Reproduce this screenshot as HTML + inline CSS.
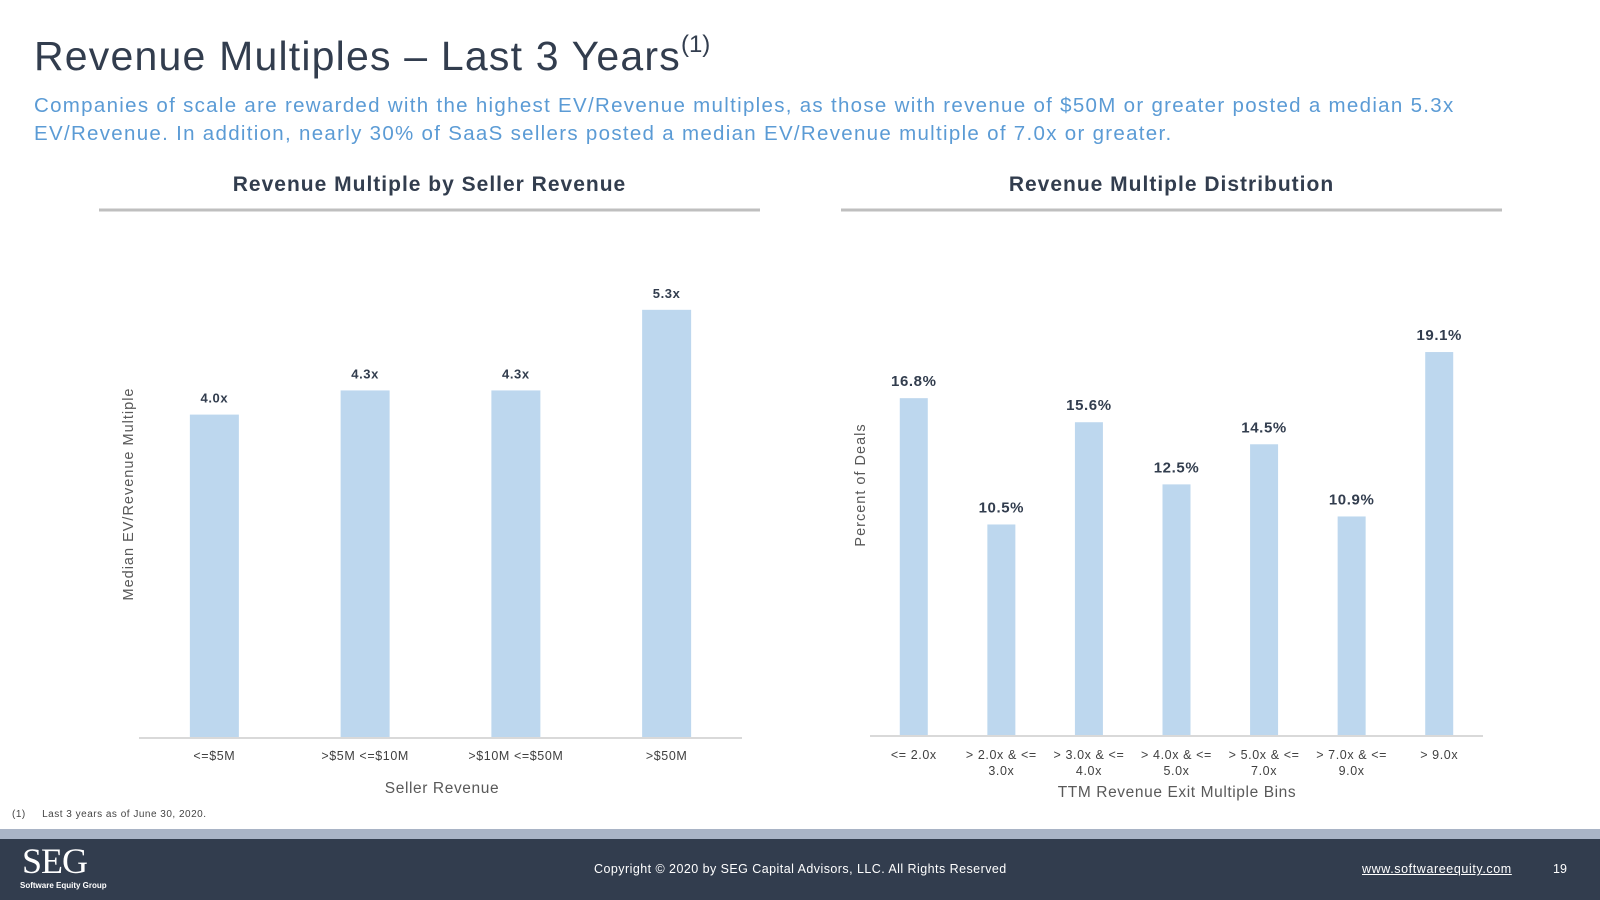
<!DOCTYPE html>
<html><head><meta charset="utf-8"><style>
body{margin:0;width:1600px;height:900px;position:relative;background:#fff;font-family:"Liberation Sans",sans-serif;overflow:hidden}
.abs{position:absolute}
</style></head><body>
<div class="abs" style="left:34px;top:31px;font-size:41px;letter-spacing:1.2px;color:#323d4e;white-space:nowrap">Revenue Multiples – Last 3 Years<sup style="font-size:24px;vertical-align:18px;letter-spacing:0">(1)</sup></div>
<div class="abs" style="left:34px;top:92px;width:1500px;font-size:20.5px;letter-spacing:1.3px;line-height:28px;color:#5b9bd5">Companies of scale are rewarded with the highest EV/Revenue multiples, as those with revenue of $50M or greater posted a median 5.3x<br>EV/Revenue. In addition, nearly 30% of SaaS sellers posted a median EV/Revenue multiple of 7.0x or greater.</div>
<svg class="abs" style="left:0;top:0" width="1600" height="900">
<g id="c1"></g>
<g id="c2"></g>
</svg>
<div class="abs" style="left:12px;top:809px;font-size:10px;letter-spacing:0.5px;color:#444">(1)&nbsp;&nbsp;&nbsp;&nbsp;&nbsp;Last 3 years as of June 30, 2020.</div>
<div class="abs" style="left:0;top:829px;width:1600px;height:10px;background:#a9b4c6"></div>
<div class="abs" style="left:0;top:839px;width:1600px;height:61px;background:#323d4e;color:#fff">
  <div class="abs" style="left:22px;top:4px;font-family:'Liberation Serif',serif;font-size:36px;line-height:36px;letter-spacing:-1px">SEG</div>
  <div class="abs" style="left:20px;top:42px;font-size:8px;font-weight:bold">Software Equity Group</div>
  <div class="abs" style="left:594px;top:23px;font-size:12.5px;letter-spacing:0.45px">Copyright © 2020 by SEG Capital Advisors, LLC. All Rights Reserved</div>
  <div class="abs" style="left:1362px;top:23px;font-size:12.5px;letter-spacing:0.6px;text-decoration:underline">www.softwareequity.com</div>
  <div class="abs" style="left:1553px;top:23px;font-size:12.5px">19</div>
</div>
<script>
const c1Categories=["<=$5M",">$5M <=$10M",">$10M <=$50M",">$50M"];
const c1Values=[4.0,4.3,4.3,5.3];
const c1Labels=["4.0x","4.3x","4.3x","5.3x"];
const c2Categories=[["<= 2.0x"],["> 2.0x & <=","3.0x"],["> 3.0x & <=","4.0x"],["> 4.0x & <=","5.0x"],["> 5.0x & <=","7.0x"],["> 7.0x & <=","9.0x"],["> 9.0x"]];
const c2Values=[16.8,10.5,15.6,12.5,14.5,10.9,19.1];
const c2Labels=["16.8%","10.5%","15.6%","12.5%","14.5%","10.9%","19.1%"];
const NS="http://www.w3.org/2000/svg";
function mk(p,t,a,txt){const e=document.createElementNS(NS,t);for(const k in a)e.setAttribute(k,a[k]);if(txt!==undefined)e.textContent=txt;p.appendChild(e);return e;}
function chart(g,o){
  const t=mk(g,'text',{x:(o.hx0+o.hx1)/2,y:191,'text-anchor':'middle','font-size':21,'font-weight':'bold','letter-spacing':1,fill:'#323d4e'},o.title);
  
  const hl=mk(g,'line',{x1:o.hx0,x2:o.hx1,y1:210,y2:210,stroke:'#bfbfbf','stroke-width':3});
  
  const n=o.cats.length,step=(o.x1-o.x0)/n;
  const xc=i=>o.x0+step*(i+0.5);
  const yv=v=>o.base-v*o.ppu;
  o.vals.forEach((v,i)=>{
    const r=mk(g,'rect',{x:xc(i)-o.bw/2,y:yv(v),width:o.bw,height:o.base-yv(v),fill:'#bdd7ee'});
    
    const l=mk(g,'text',{x:xc(i),y:yv(v)-o.lblOff,'text-anchor':'middle','font-size':o.lblSize,'font-weight':'bold','letter-spacing':0.6,fill:'#323d4e'},o.labels[i]);
    
    const lines=Array.isArray(o.cats[i])?o.cats[i]:[o.cats[i]];
    lines.forEach((s,j)=>{const c=mk(g,'text',{x:xc(i),y:o.tickY+j*16,'text-anchor':'middle','font-size':12.5,'letter-spacing':0.6,fill:'#404040'},s);
      });
  });
  const ax=mk(g,'line',{x1:o.x0,x2:o.x1,y1:o.base+1,y2:o.base+1,stroke:'#d9d9d9','stroke-width':2});
  
  const xt=mk(g,'text',{x:o.xtX,y:o.xtY,'text-anchor':'middle','font-size':15.5,'letter-spacing':0.6,fill:'#595959'},o.xTitle);
  
  const yt=mk(g,'text',{x:0,y:0,'text-anchor':'middle','font-size':14.5,'letter-spacing':1,fill:'#595959',transform:`translate(${o.ytX},${o.ytY}) rotate(-90)`},o.yTitle);
  
}
chart(document.getElementById('c1'),{title:'Revenue Multiple by Seller Revenue',hx0:99,hx1:760,cats:c1Categories,vals:c1Values,labels:c1Labels,
  x0:139,x1:742,base:737,ppu:80.6,bw:49,lblOff:12,lblSize:13,tickY:760,xTitle:'Seller Revenue',xtX:442,xtY:793,yTitle:'Median EV/Revenue Multiple',ytX:133,ytY:494});
chart(document.getElementById('c2'),{title:'Revenue Multiple Distribution',hx0:841,hx1:1502,cats:c2Categories,vals:c2Values,labels:c2Labels,
  x0:870,x1:1483,base:735,ppu:20.05,bw:28,lblOff:12,lblSize:15,tickY:759,xTitle:'TTM Revenue Exit Multiple Bins',xtX:1177,xtY:797,yTitle:'Percent of Deals',ytX:865,ytY:485});
</script>
</body></html>
